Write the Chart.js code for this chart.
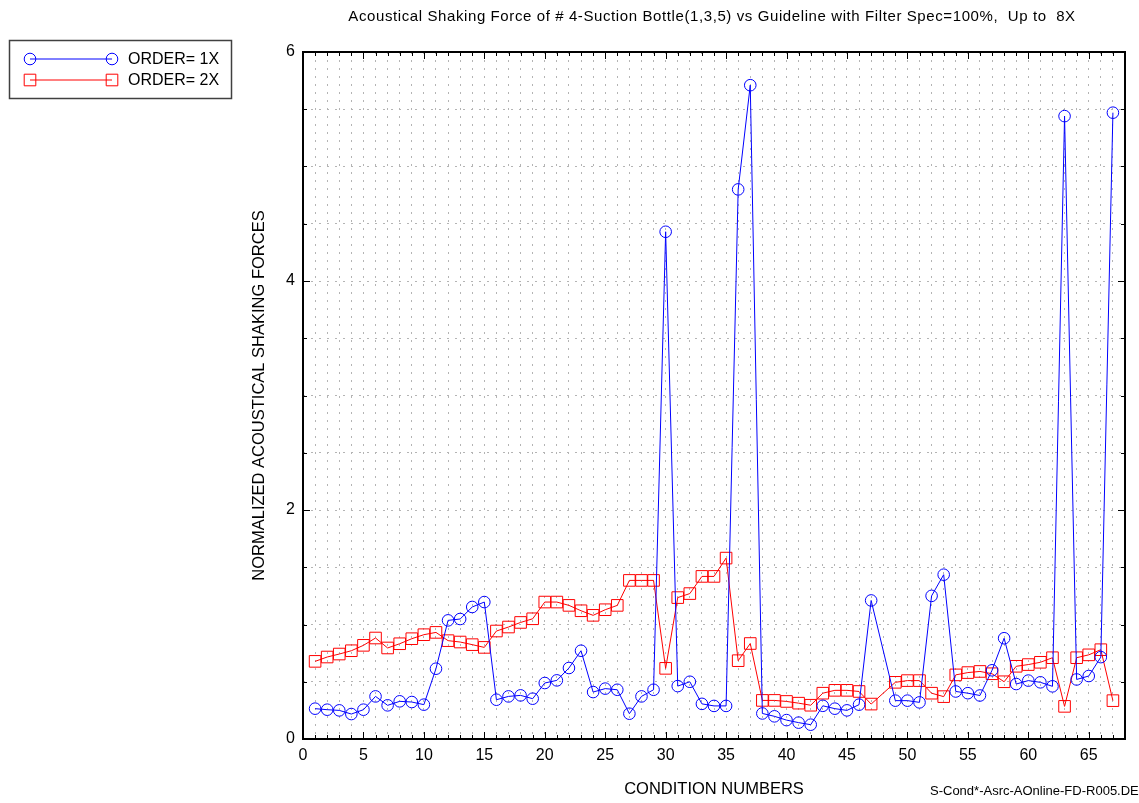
<!DOCTYPE html>
<html>
<head>
<meta charset="utf-8">
<script src="https://cdn.jsdelivr.net/npm/chart.js@4/dist/chart.umd.min.js"></script>
<style>
  html, body { margin: 0; padding: 0; background: #fff; }
  #wrap { width: 1139px; height: 803px; }
</style>
</head>
<body>
<div id="wrap"><canvas id="shakingChart" width="1139" height="803"></canvas></div>
<script>
// condition numbers (no run at 48)
const conditions = [
  1, 2, 3, 4, 5, 6, 7, 8, 9, 10, 11, 12, 13, 14, 15, 16, 17, 18, 19, 20,
  21, 22, 23, 24, 25, 26, 27, 28, 29, 30, 31, 32, 33, 34, 35, 36, 37, 38, 39, 40,
  41, 42, 43, 44, 45, 46, 47, 49, 50, 51, 52, 53, 54, 55, 56, 57, 58, 59, 60,
  61, 62, 63, 64, 65, 66, 67
];

const order1x = [
  0.265, 0.256, 0.25, 0.218, 0.256, 0.372, 0.294, 0.329, 0.323, 0.30,
  0.614, 1.036, 1.048, 1.153, 1.196, 0.343, 0.372, 0.381, 0.352, 0.489,
  0.512, 0.62, 0.771, 0.41, 0.44, 0.43, 0.221, 0.372, 0.43, 4.43,
  0.462, 0.50, 0.307, 0.289, 0.289, 4.80, 5.71, 0.223, 0.198, 0.165,
  0.143, 0.125, 0.29, 0.265, 0.25, 0.30, 1.21, 0.335, 0.335, 0.32,
  1.25, 1.435, 0.415, 0.40, 0.38, 0.60, 0.88, 0.48, 0.51, 0.495,
  0.46, 5.44, 0.52, 0.55, 0.715, 5.47
];

const order2x = [
  0.678, 0.716, 0.742, 0.771, 0.818, 0.882, 0.795, 0.832, 0.876, 0.911,
  0.931, 0.859, 0.847, 0.824, 0.80, 0.943, 0.978, 1.018, 1.05, 1.196,
  1.196, 1.167, 1.12, 1.08, 1.129, 1.167, 1.385, 1.385, 1.385, 0.617,
  1.235, 1.27, 1.42, 1.42, 1.58, 0.684, 0.834, 0.337, 0.337, 0.328,
  0.313, 0.295, 0.40, 0.425, 0.425, 0.415, 0.305, 0.495, 0.51, 0.51,
  0.40, 0.37, 0.56, 0.58, 0.59, 0.57, 0.50, 0.635, 0.65, 0.67,
  0.71, 0.285, 0.71, 0.735, 0.78, 0.335
];

const xTickLabels = [0, 5, 10, 15, 20, 25, 30, 35, 40, 45, 50, 55, 60, 65];
const yTickLabels = [0, 2, 4, 6];

const FONT = "'Liberation Sans', Arial, Helvetica, sans-serif";
const titleText = 'Acoustical Shaking Force of # 4-Suction Bottle(1,3,5) vs Guideline with Filter Spec=100%,  Up to  8X';
const fileTag = 'S-Cond*-Asrc-AOnline-FD-R005.DE';

const toPoints = vals => conditions.map((c, i) => ({ x: c, y: vals[i] }));

// frame with inward tick marks on all four sides, plus title, legend and file tag
const decorations = {
  id: 'decorations',
  afterDatasetsDraw(chart) {
    const { ctx, chartArea: a, scales: { x, y } } = chart;
    ctx.save();
    ctx.strokeStyle = '#000';
    ctx.lineWidth = 1;
    ctx.beginPath();
    for (let v = 0; v <= 68; v++) {
      const px = Math.round(x.getPixelForValue(v)) + 0.5;
      const len = v % 5 === 0 ? 7 : 4;
      ctx.moveTo(px, a.bottom); ctx.lineTo(px, a.bottom - len);
      ctx.moveTo(px, a.top); ctx.lineTo(px, a.top + len);
    }
    for (let v = 0; v <= 6; v += 0.5) {
      const py = Math.round(y.getPixelForValue(v)) + 0.5;
      const len = yTickLabels.includes(v) ? 7 : 4;
      ctx.moveTo(a.left, py); ctx.lineTo(a.left + len, py);
      ctx.moveTo(a.right, py); ctx.lineTo(a.right - len, py);
    }
    ctx.stroke();
    ctx.lineWidth = 2;
    ctx.strokeRect(a.left, a.top, a.right - a.left, a.bottom - a.top);
    ctx.restore();
  },
  afterDraw(chart) {
    const { ctx, chartArea: a } = chart;
    ctx.save();
    ctx.fillStyle = '#000';
    ctx.textBaseline = 'middle';

    ctx.font = '15px ' + FONT;
    ctx.textAlign = 'center';
    if ('letterSpacing' in ctx) ctx.letterSpacing = '0.6px';
    ctx.fillText(titleText, (a.left + a.right) / 2 - 2, 17, 735);
    if ('letterSpacing' in ctx) ctx.letterSpacing = '0px';

    ctx.font = '13px ' + FONT;
    ctx.textAlign = 'left';
    ctx.fillText(fileTag, 930, 791);

    // legend
    ctx.lineWidth = 1.5;
    ctx.strokeStyle = '#404040';
    ctx.strokeRect(9.5, 40.5, 222, 58);
    chart.data.datasets.forEach((ds, i) => {
      const ly = 59 + i * 21;
      ctx.strokeStyle = ds.borderColor;
      ctx.fillStyle = 'rgba(0,0,0,0)';
      ctx.lineWidth = 1;
      ctx.beginPath();
      ctx.moveTo(30, ly); ctx.lineTo(112, ly);
      ctx.stroke();
      [30, 112].forEach(lx => {
        Chart.helpers.drawPoint(ctx, {
          pointStyle: ds.pointStyle, radius: ds.pointRadius,
          borderWidth: ds.pointBorderWidth, rotation: 0
        }, lx, ly);
      });
      ctx.fillStyle = '#000';
      ctx.font = '16px ' + FONT;
      ctx.fillText(ds.label, 128, ly + 0.5);
    });
    ctx.restore();
  }
};

new Chart(document.getElementById('shakingChart'), {
  type: 'line',
  data: {
    datasets: [
      {
        label: 'ORDER= 1X',
        data: toPoints(order1x),
        borderColor: '#0000ff',
        borderWidth: 1,
        pointStyle: 'circle',
        pointRadius: 5.8,
        pointBorderWidth: 1,
        pointBorderColor: '#0000ff',
        pointBackgroundColor: 'rgba(0,0,0,0)',
        tension: 0
      },
      {
        label: 'ORDER= 2X',
        data: toPoints(order2x),
        borderColor: '#ff0000',
        borderWidth: 1,
        pointStyle: 'rect',
        pointRadius: 8.2,
        pointBorderWidth: 1,
        pointBorderColor: '#ff0000',
        pointBackgroundColor: 'rgba(0,0,0,0)',
        tension: 0
      }
    ]
  },
  options: {
    responsive: false,
    animation: false,
    events: [],
    layout: { padding: { left: 0, right: 14, top: 52, bottom: 0 } },
    plugins: {
      legend: { display: false },
      tooltip: { enabled: false },
      title: { display: false }
    },
    scales: {
      x: {
        type: 'linear',
        min: 0,
        max: 68,
        afterFit: s => { s.height = 64; },
        ticks: {
          stepSize: 1,
          autoSkip: false,
          maxRotation: 0,
          minRotation: 0,
          padding: 7,
          color: '#000',
          font: { family: FONT, size: 16 },
          callback: v => xTickLabels.includes(v) ? String(v) : ''
        },
        grid: { color: '#b4b4b4', lineWidth: 1, drawTicks: false },
        border: { display: false, dash: [2, 6] },
        title: {
          display: true,
          text: 'CONDITION NUMBERS',
          color: '#000',
          font: { family: FONT, size: 16.5 },
          padding: { top: 0, bottom: 4 }
        }
      },
      y: {
        min: 0,
        max: 6,
        afterFit: s => { s.width = 303; },
        ticks: {
          stepSize: 0.5,
          autoSkip: false,
          padding: 8,
          color: '#000',
          font: { family: FONT, size: 16 },
          callback: v => yTickLabels.includes(v) ? String(v) : ''
        },
        grid: { color: '#b4b4b4', lineWidth: 1, drawTicks: false },
        border: { display: false, dash: [2, 6] },
        title: {
          display: true,
          text: 'NORMALIZED ACOUSTICAL SHAKING FORCES',
          color: '#000',
          font: { family: FONT, size: 16.5 },
          padding: { top: 250, bottom: 0 }
        }
      }
    }
  },
  plugins: [decorations]
});
</script>
</body>
</html>
